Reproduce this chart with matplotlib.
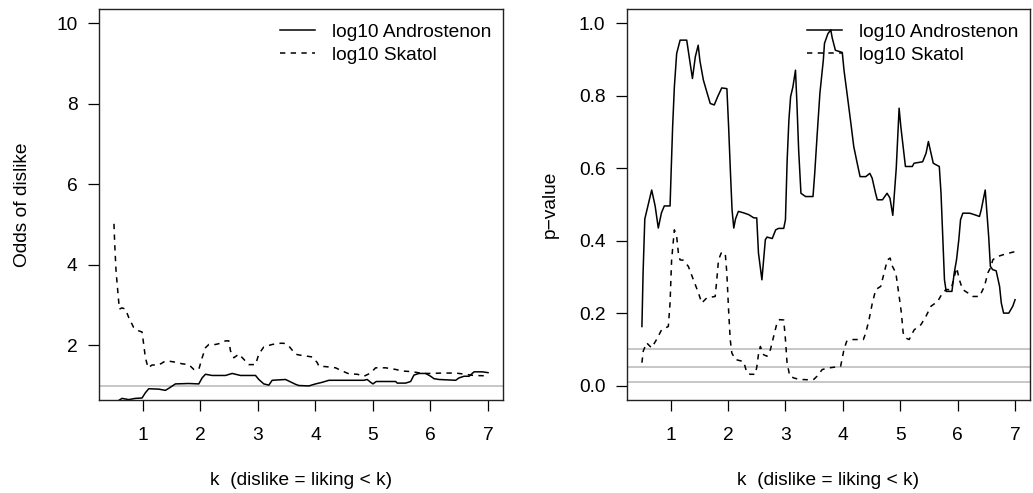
import matplotlib
matplotlib.use("Agg")
import matplotlib.pyplot as plt

plt.rcParams['font.family'] = ['Liberation Sans', 'DejaVu Sans']

# ---- odds of dislike (left panel) ----
odds_andro_k = [0.50, 0.55, 0.583, 0.64, 0.757, 0.872, 0.988, 1.046, 1.104, 1.278, 1.394,
                1.452, 1.568, 1.80, 1.974, 2.032, 2.09, 2.206, 2.438, 2.554, 2.699, 2.96,
                3.017, 3.104, 3.191, 3.249, 3.481, 3.568, 3.655, 3.713, 3.887, 4.003,
                4.119, 4.235, 4.843, 4.901, 4.96, 5.0, 5.058, 5.394, 5.423, 5.568, 5.655,
                5.713, 5.80, 5.916, 6.003, 6.061, 6.148, 6.438, 6.496, 6.583, 6.67, 6.757,
                6.90, 7.0]
odds_andro = [0.55, 0.58, 0.63, 0.68, 0.65, 0.68, 0.69, 0.82, 0.92, 0.91, 0.88,
              0.93, 1.04, 1.05, 1.04, 1.19, 1.28, 1.25, 1.25, 1.30, 1.25, 1.25,
              1.15, 1.04, 1.01, 1.13, 1.15, 1.09, 1.03, 1.00, 0.99, 1.04,
              1.08, 1.13, 1.13, 1.15, 1.08, 1.04, 1.10, 1.10, 1.06, 1.06, 1.10,
              1.26, 1.30, 1.30, 1.23, 1.17, 1.15, 1.13, 1.19, 1.23, 1.23, 1.34,
              1.34, 1.32]

odds_skatol_k = [0.50, 0.513, 0.536, 0.571, 0.594, 0.64, 0.699, 0.757, 0.843, 0.93, 0.988,
                 1.017, 1.046, 1.093, 1.162, 1.278, 1.394, 1.481, 1.568, 1.684, 1.80,
                 1.887, 1.974, 2.032, 2.09, 2.148, 2.264, 2.351, 2.438, 2.496, 2.525,
                 2.583, 2.67, 2.757, 2.843, 2.96, 3.017, 3.104, 3.249, 3.365, 3.452,
                 3.539, 3.655, 3.713, 3.945, 4.032, 4.061, 4.177, 4.351, 4.467, 4.583,
                 4.728, 4.843, 4.96, 5.046, 5.22, 5.394, 5.51, 5.626, 5.742, 5.858,
                 6.0, 6.2, 6.44, 6.6, 6.75, 7.0]
odds_skatol = [5.02, 4.52, 3.85, 3.27, 2.90, 2.93, 2.90, 2.69, 2.44, 2.36, 2.33,
               2.02, 1.69, 1.44, 1.51, 1.51, 1.61, 1.60, 1.58, 1.54, 1.52,
               1.40, 1.40, 1.69, 1.94, 2.02, 2.02, 2.05, 2.11, 2.11, 1.86,
               1.69, 1.78, 1.65, 1.52, 1.52, 1.78, 1.96, 2.02, 2.05, 2.05,
               1.98, 1.78, 1.76, 1.71, 1.57, 1.48, 1.47, 1.44, 1.36, 1.29,
               1.28, 1.23, 1.31, 1.44, 1.44, 1.40, 1.36, 1.35, 1.33, 1.30,
               1.30, 1.31, 1.31, 1.28, 1.25, 1.24]

# ---- p-values (right panel) ----
p_andro_k = [0.50, 0.52, 0.55, 0.61, 0.67, 0.73, 0.785, 0.84, 0.89, 0.99, 1.01, 1.035,
             1.065, 1.105, 1.165, 1.28, 1.34, 1.38, 1.43, 1.48, 1.51, 1.57, 1.63, 1.69,
             1.76, 1.82, 1.89, 1.98, 2.01, 2.04, 2.07, 2.10, 2.13, 2.18, 2.27, 2.36,
             2.45, 2.50, 2.53, 2.59, 2.65, 2.68, 2.77, 2.83, 2.88, 2.97, 3.00, 3.03,
             3.06, 3.09, 3.13, 3.175, 3.20, 3.23, 3.27, 3.35, 3.48, 3.51, 3.55, 3.60,
             3.66, 3.68, 3.74, 3.79, 3.815, 3.87, 3.93, 3.99, 4.02, 4.08, 4.14, 4.19,
             4.25, 4.30, 4.40, 4.47, 4.51, 4.57, 4.60, 4.69, 4.77, 4.82, 4.87, 4.93,
             4.98, 5.01, 5.05, 5.09, 5.21, 5.24, 5.39, 5.45, 5.49, 5.535, 5.575, 5.62,
             5.68, 5.71, 5.74, 5.77, 5.80, 5.90, 5.94, 5.98, 6.02, 6.05, 6.09, 6.21,
             6.29, 6.38, 6.41, 6.45, 6.48, 6.51, 6.54, 6.57, 6.61, 6.67, 6.73, 6.76,
             6.80, 6.89, 6.96, 7.00]
p_andro = [0.163, 0.31, 0.46, 0.50, 0.54, 0.496, 0.435, 0.477, 0.496, 0.496, 0.596, 0.715,
           0.825, 0.917, 0.954, 0.954, 0.89, 0.848, 0.908, 0.94, 0.897, 0.844, 0.811, 0.779,
           0.775, 0.798, 0.822, 0.82, 0.715, 0.596, 0.485, 0.435, 0.46, 0.481, 0.477, 0.472,
           0.463, 0.463, 0.366, 0.292, 0.403, 0.41, 0.406, 0.43, 0.434, 0.434, 0.458, 0.623,
           0.733, 0.798, 0.825, 0.871, 0.779, 0.651, 0.531, 0.522, 0.522, 0.586, 0.687, 0.807,
           0.899, 0.945, 0.972, 0.982, 0.96, 0.926, 0.923, 0.92, 0.871, 0.798, 0.724, 0.66,
           0.614, 0.577, 0.577, 0.586, 0.573, 0.531, 0.513, 0.513, 0.531, 0.518, 0.47, 0.60,
           0.766, 0.715, 0.66, 0.605, 0.605, 0.614, 0.618, 0.642, 0.674, 0.642, 0.614, 0.61,
           0.605, 0.531, 0.412, 0.292, 0.26, 0.26, 0.311, 0.347, 0.403, 0.458, 0.476, 0.476,
           0.472, 0.467, 0.485, 0.517, 0.54, 0.476, 0.412, 0.329, 0.32, 0.317, 0.274, 0.228,
           0.20, 0.20, 0.219, 0.237]

p_skatol_k = [0.50, 0.523, 0.581, 0.668, 0.755, 0.843, 0.96, 0.99, 1.017, 1.065, 1.105,
              1.135, 1.164, 1.222, 1.309, 1.397, 1.484, 1.542, 1.63, 1.776, 1.804, 1.834,
              1.881, 1.951, 1.979, 2.009, 2.038, 2.066, 2.126, 2.271, 2.329, 2.388, 2.476,
              2.503, 2.533, 2.563, 2.62, 2.679, 2.738, 2.795, 2.853, 2.90, 2.97, 3.0,
              3.028, 3.075, 3.145, 3.233, 3.378, 3.495, 3.552, 3.64, 3.727, 3.961, 4.019,
              4.066, 4.136, 4.357, 4.399, 4.456, 4.514, 4.573, 4.661, 4.718, 4.776, 4.823,
              4.864, 4.923, 4.981, 5.02, 5.051, 5.098, 5.155, 5.243, 5.36, 5.447, 5.535,
              5.65, 5.738, 5.797, 5.884, 5.942, 5.983, 6.03, 6.087, 6.175, 6.262, 6.38,
              6.467, 6.525, 6.572, 6.612, 6.671, 6.787, 6.904, 7.0]
p_skatol = [0.063, 0.095, 0.118, 0.104, 0.127, 0.154, 0.163, 0.228, 0.347, 0.43, 0.412,
            0.366, 0.347, 0.346, 0.329, 0.292, 0.256, 0.228, 0.242, 0.246, 0.292, 0.347,
            0.366, 0.366, 0.311, 0.21, 0.127, 0.09, 0.072, 0.066, 0.035, 0.031, 0.031,
            0.053, 0.09, 0.108, 0.085, 0.081, 0.099, 0.136, 0.173, 0.182, 0.181, 0.127,
            0.063, 0.026, 0.021, 0.017, 0.016, 0.017, 0.026, 0.044, 0.048, 0.053, 0.099,
            0.122, 0.127, 0.127, 0.145, 0.182, 0.228, 0.265, 0.274, 0.311, 0.347, 0.352,
            0.329, 0.311, 0.246, 0.20, 0.145, 0.131, 0.127, 0.154, 0.168, 0.191, 0.219,
            0.232, 0.256, 0.265, 0.265, 0.301, 0.325, 0.292, 0.265, 0.256, 0.246, 0.246,
            0.274, 0.311, 0.325, 0.347, 0.355, 0.361, 0.366, 0.37]

significance_levels = [0.1, 0.05, 0.01]
series_labels = ["log10 Androstenon", "log10 Skatol"]
k_ticks = [1, 2, 3, 4, 5, 6, 7]
odds_ticks = [2, 4, 6, 8, 10]
p_ticks = [0.0, 0.2, 0.4, 0.6, 0.8, 1.0]
xlabel = "k  (dislike = liking < k)"

FS = 13.8
W, H = 1033, 493
fig = plt.figure(figsize=(W / 100, H / 100), dpi=100)
ax1 = fig.add_axes([99 / W, (H - 400) / H, 404 / W, 391 / H])
ax2 = fig.add_axes([627 / W, (H - 400) / H, 403 / W, 391 / H])

dash = (0, (3.5, 3.5))
lw = 1.1
gray = '#bebebe'

# left: odds
ax1.axhline(1, color=gray, lw=1.2, zorder=1)
ax1.plot(odds_andro_k, odds_andro, color='black', lw=lw, label=series_labels[0])
ax1.plot(odds_skatol_k, odds_skatol, color='black', lw=lw, linestyle=dash,
         label=series_labels[1])
ax1.set_ylim(1 - 0.36, 10.36)
ax1.set_yticks(odds_ticks)
ax1.set_yticklabels([str(t) for t in odds_ticks])
ax1.set_ylabel("Odds of dislike", fontsize=FS)
ax1.yaxis.set_label_coords(-0.19, 0.5)

# right: p-values
for lvl in significance_levels:
    ax2.axhline(lvl, color=gray, lw=1.2, zorder=1)
ax2.plot(p_andro_k, p_andro, color='black', lw=lw, label=series_labels[0])
ax2.plot(p_skatol_k, p_skatol, color='black', lw=lw, linestyle=dash,
         label=series_labels[1])
ax2.set_ylim(-0.04, 1.04)
ax2.set_yticks(p_ticks)
ax2.set_yticklabels([f"{t:.1f}" for t in p_ticks])
ax2.set_ylabel("p\u2212value", fontsize=FS)
ax2.yaxis.set_label_coords(-0.191, 0.5)

for ax in (ax1, ax2):
    ax.set_xlim(0.24, 7.26)
    ax.set_xticks(k_ticks)
    ax.set_xticklabels([str(t) for t in k_ticks])
    ax.set_xlabel(xlabel, fontsize=FS)
    ax.xaxis.label.set_va('center')
    ax.yaxis.label.set_va('center')
    ax.xaxis.set_label_coords(0.5, -0.205)
    ax.tick_params(axis='both', direction='out', length=8, width=0.9,
                   labelsize=FS, color='black')
    ax.tick_params(axis='x', pad=11.5)
    ax.tick_params(axis='y', pad=7.5)
    for sp in ax.spines.values():
        sp.set_linewidth(1.0)
        sp.set_color('#222222')
    ax.legend(loc='upper right', frameon=False, fontsize=FS, handlelength=1.8,
              handletextpad=0.9, labelspacing=0.32, borderaxespad=0.2,
              bbox_to_anchor=(1.0, 0.993))

fig.savefig("out.png", dpi=100)
